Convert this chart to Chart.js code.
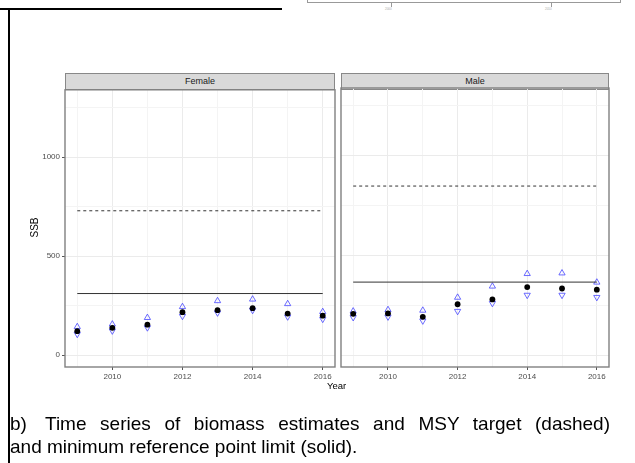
<!DOCTYPE html>
<html>
<head>
  <title>SSB by sex</title>
  <style>
    body {
      margin: 0;
      background-color: #FFF;
      font-family: "Liberation Sans", Arial, sans-serif;
      width: 635px;
      height: 463px;
      overflow: hidden;
      position: relative;
    }
    .abs { position: absolute; }
    .strip {
      position: absolute;
      background-color: #d9d9d9;
      border: 1px solid #888;
      box-sizing: border-box;
      font-size: 9px;
      color: #1a1a1a;
      text-align: center;
      line-height: 15px;
    }
    .caption {
      position: absolute;
      font-size: 19px;
      line-height: 22px;
      color: #000;
      white-space: nowrap;
    }
  </style>
</head>
<body>
  <!-- bits of the figure above -->
  <div class="abs" style="left:0;top:8px;width:282px;height:2px;background:#000"></div>
  <div class="abs" style="left:8px;top:8px;width:2px;height:460px;background:#000"></div>
  <div class="abs" style="left:307px;top:-10px;width:314px;height:13px;border:1px solid #999;box-sizing:border-box"></div>
  <div class="abs" style="left:391px;top:3px;width:1px;height:4px;background:#999"></div>
  <div class="abs" style="left:551px;top:3px;width:1px;height:4px;background:#999"></div>
  <div class="abs" style="left:385px;top:7px;font-size:3px;color:#aaa">2000</div>
  <div class="abs" style="left:545px;top:7px;font-size:3px;color:#aaa">2010</div>

  <div class="strip" style="left:65px;top:73px;width:270px;height:17px">Female</div>
  <div class="strip" style="left:341px;top:73px;width:268px;height:17px">Male</div>

  <canvas id="female" class="abs" style="left:0;top:83px"></canvas>
  <canvas id="male" class="abs" style="left:336px;top:83px"></canvas>

  <div class="abs" style="left:24px;top:222px;font-size:10px;color:#000;transform:rotate(-90deg);transform-origin:center">SSB</div>
  <div class="abs" style="left:327px;top:380px;font-size:9.5px;color:#000">Year</div>

  <div class="caption" style="left:10px;top:413px">b)</div>
  <div class="caption" style="left:45px;top:413px;width:565px;white-space:normal;text-align:justify;text-align-last:justify">Time series of biomass estimates and MSY target (dashed)</div>
  <div class="caption" style="left:10px;top:436px">and minimum reference point limit (solid).</div>

  <script src="https://cdn.jsdelivr.net/npm/chart.js"></script>
  <script>
    // values
    var years = [2009, 2010, 2011, 2012, 2013, 2014, 2015, 2016];
    var femaleEst = [121, 138, 154, 217, 227, 237, 210, 199];
    var femaleUpper = [143, 156, 189, 244, 274, 282, 259, 219];
    var femaleLower = [106, 123, 139, 197, 214, 227, 194, 182];
    var femaleTarget = 729;
    var femaleLimit = 311;
    var maleEst = [207, 209, 192, 255, 279, 341, 334, 328];
    var maleUpper = [220, 227, 224, 289, 345, 408, 411, 365];
    var maleLower = [189, 192, 172, 220, 260, 301, 301, 290];
    var maleTarget = 848;
    var maleLimit = 366;
    var yTicks = [0, 250, 500, 750, 1000, 1250];

    function pts(ys) {
      return years.map(function(x, i) { return { x: x, y: ys[i] }; });
    }
    function hline(v) {
      return [{ x: years[0], y: v }, { x: years[years.length - 1], y: v }];
    }

    var frame = {
      id: 'frame',
      afterDraw: function(chart) {
        var a = chart.chartArea, c = chart.ctx;
        c.save();
        c.strokeStyle = '#808080';
        c.lineWidth = 1.4;
        c.strokeRect(a.left, a.top, a.right - a.left, a.bottom - a.top);
        c.restore();
      }
    };

    function makePanel(id, w, showY, est, up, low, target, limit, leftW) {
      var el = document.getElementById(id);
      el.width = w;
      el.height = 306;
      return new Chart(el.getContext('2d'), {
        data: {
          datasets: [
            { type: 'line', data: hline(target), borderColor: '#333', borderWidth: 1, borderDash: [3, 3], pointRadius: 0 },
            { type: 'line', data: hline(limit), borderColor: '#333', borderWidth: 1, pointRadius: 0 },
            { type: 'scatter', data: pts(est), pointStyle: 'circle', pointRadius: 2.9, backgroundColor: '#000', borderColor: '#000', borderWidth: 0 },
            { type: 'scatter', data: pts(up), pointStyle: 'triangle', pointRadius: 3.6, backgroundColor: 'rgba(0,0,0,0)', borderColor: 'rgba(70,70,255,0.8)', borderWidth: 1 },
            { type: 'scatter', data: pts(low), pointStyle: 'triangle', rotation: 180, pointRadius: 3.6, backgroundColor: 'rgba(0,0,0,0)', borderColor: 'rgba(70,70,255,0.8)', borderWidth: 1 }
          ]
        },
        options: {
          responsive: false,
          animation: false,
          layout: { padding: { top: 0, right: 5, left: 0, bottom: 0 } },
          plugins: { legend: { display: false }, tooltip: { enabled: false } },
          scales: {
            x: {
              type: 'linear',
              min: 2008.65,
              max: 2016.35,
              afterBuildTicks: function(s) { s.ticks = years.map(function(v) { return { value: v }; }); },
              afterFit: function(s) { s.height = 22; },
              ticks: {
                autoSkip: false,
                maxRotation: 0,
                padding: 2,
                color: '#4d4d4d',
                font: { family: 'Liberation Sans', size: 8 },
                callback: function(v) { return v % 2 === 0 ? String(v) : ''; }
              },
              grid: {
                color: function(c) { return c.tick && c.tick.value % 2 === 0 ? '#ebebeb' : '#f4f4f4'; },
                tickLength: 3,
                tickColor: function(c) { return c.tick && c.tick.value % 2 === 0 ? '#555' : 'rgba(0,0,0,0)'; }
              },
              border: { display: false }
            },
            y: {
              min: -60,
              max: 1340,
              afterBuildTicks: function(s) { s.ticks = yTicks.map(function(v) { return { value: v }; }); },
              afterFit: function(s) { s.width = leftW; },
              ticks: {
                display: showY,
                padding: 2,
                color: '#4d4d4d',
                font: { family: 'Liberation Sans', size: 8 },
                callback: function(v) { return v % 500 === 0 ? String(v) : ''; }
              },
              grid: {
                color: function(c) { return c.tick && c.tick.value % 500 === 0 ? '#ebebeb' : '#f4f4f4'; },
                tickLength: showY ? 3 : 0,
                drawTicks: showY,
                tickColor: function(c) { return c.tick && c.tick.value % 500 === 0 ? '#555' : 'rgba(0,0,0,0)'; }
              },
              border: { display: false }
            }
          }
        },
        plugins: [frame]
      });
    }

    makePanel('female', 340, true, femaleEst, femaleUpper, femaleLower, femaleTarget, femaleLimit, 65);
    makePanel('male', 278, false, maleEst, maleUpper, maleLower, maleTarget, maleLimit, 5);
  </script>
</body>
</html>
